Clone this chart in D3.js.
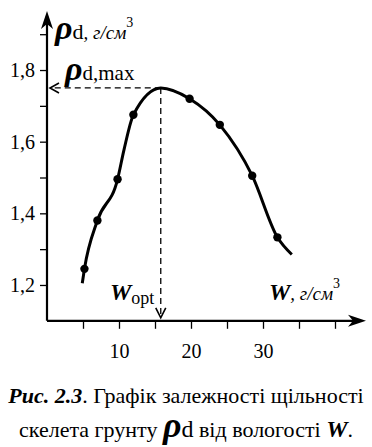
<!DOCTYPE html>
<html>
<head>
<meta charset="utf-8">
<script src="https://cdn.jsdelivr.net/npm/d3@7"></script>
<style>
  body { margin: 0; background: #fff; }
  svg text { font-family: "Liberation Serif", "Times New Roman", "DejaVu Serif", serif; }
</style>
</head>
<body>
<div id="chart"></div>
<script>
// measured points (W, %) and dry density
const dotW   = [5.2, 7.0, 9.8, 12.0, 19.8, 24.0, 28.5, 32.0];
const dotRho = [1.245, 1.38, 1.495, 1.675, 1.72, 1.647, 1.505, 1.333];
// hand-drawn curve knots
const curveW   = [4.9, 5.2, 7.0, 9.8, 10.7, 12.0, 15.8, 19.8, 24.0, 28.5, 32.0, 34.0];
const curveRho = [1.205, 1.245, 1.38, 1.495, 1.578, 1.675, 1.75, 1.72, 1.647, 1.505, 1.333, 1.285];
const wOpt = 15.8;
const rhoMax = 1.75;
const xTicks = [5, 10, 15, 20, 25, 30, 35, 40];
const xLabels = { 10: "10", 20: "20", 30: "30" };
const yTicks = [1.2, 1.3, 1.4, 1.5, 1.6, 1.7, 1.8, 1.9];
const yLabels = { "1.2": "1,2", "1.4": "1,4", "1.6": "1,6", "1.8": "1,8" };

const serif = "'Liberation Serif', 'Times New Roman', 'DejaVu Serif', serif";
const width = 372, height = 447;
const svg = d3.select("#chart").append("svg")
    .attr("width", width)
    .attr("height", height)
    .attr("font-family", serif);

// Scales
const x = d3.scaleLinear().domain([0, 40]).range([47, 335]);
const y = d3.scaleLinear().domain([1.1, 1.9]).range([320.8, 34.2]);
const x0 = x(0), y0 = y(1.1);

// Axis lines with arrows
svg.append("line")
    .attr("x1", x0).attr("y1", y0).attr("x2", x0).attr("y2", 16)
    .attr("stroke", "#000").attr("stroke-width", 2.2);
svg.append("path")
    .attr("d", `M${x0},11 L${x0 - 6},29 L${x0},24 L${x0 + 6},29 Z`)
    .attr("fill", "#000");
svg.append("line")
    .attr("x1", x0).attr("y1", y0).attr("x2", 360).attr("y2", y0)
    .attr("stroke", "#000").attr("stroke-width", 2.2);
svg.append("path")
    .attr("d", `M366,${y0} L348,${y0 - 6} L353,${y0} L348,${y0 + 6} Z`)
    .attr("fill", "#000");

// Y axis ticks
const yAxis = d3.axisLeft(y)
    .tickValues(yTicks)
    .tickSize(7)
    .tickPadding(5)
    .tickFormat(d => yLabels[d.toFixed(1)] || "");
const gy = svg.append("g")
    .attr("transform", `translate(${x0},0)`)
    .call(yAxis)
    .attr("font-family", serif)
    .attr("font-size", 20);
gy.select(".domain").remove();
gy.selectAll("line").attr("stroke-width", 1.3);

// X axis ticks
const xAxis = d3.axisBottom(x)
    .tickValues(xTicks)
    .tickSize(8)
    .tickPadding(15)
    .tickFormat(d => xLabels[d] || "");
const gx = svg.append("g")
    .attr("transform", `translate(0,${y0})`)
    .call(xAxis)
    .attr("font-family", serif)
    .attr("font-size", 20);
gx.select(".domain").remove();
gx.selectAll("line").attr("stroke-width", 1.3);

// Dashed guides to optimum
svg.append("line")
    .attr("x1", x(wOpt)).attr("y1", y(rhoMax))
    .attr("x2", x0 + 3).attr("y2", y(rhoMax))
    .attr("stroke", "#000").attr("stroke-width", 1.3)
    .attr("stroke-dasharray", "6,4");
svg.append("path")
    .attr("d", `M${x0 + 12},${y(rhoMax) - 5} L${x0 + 3},${y(rhoMax)} L${x0 + 12},${y(rhoMax) + 5}`)
    .attr("fill", "none").attr("stroke", "#000").attr("stroke-width", 1.6);
svg.append("line")
    .attr("x1", x(wOpt)).attr("y1", y(rhoMax))
    .attr("x2", x(wOpt)).attr("y2", y0 - 4)
    .attr("stroke", "#000").attr("stroke-width", 1.3)
    .attr("stroke-dasharray", "6,4");
svg.append("path")
    .attr("d", `M${x(wOpt) - 5},${y0 - 13} L${x(wOpt)},${y0 - 3} L${x(wOpt) + 5},${y0 - 13}`)
    .attr("fill", "none").attr("stroke", "#000").attr("stroke-width", 1.6);

// Curve
const curveData = curveW.map((w, i) => ({ w: w, r: curveRho[i] }));
const line = d3.line()
    .x(d => x(d.w))
    .y(d => y(d.r))
    .curve(d3.curveMonotoneX);
svg.append("path")
    .datum(curveData)
    .attr("d", line)
    .attr("fill", "none")
    .attr("stroke", "#000")
    .attr("stroke-width", 3);

// Points
const dots = dotW.map((w, i) => ({ w: w, r: dotRho[i] }));
svg.selectAll("circle.dot")
    .data(dots)
    .enter()
    .append("circle")
    .attr("class", "dot")
    .attr("cx", d => x(d.w))
    .attr("cy", d => y(d.r))
    .attr("r", 4.2)
    .attr("fill", "#000");

// Labels
const yTitle = svg.append("text").attr("x", 55).attr("y", 39);
yTitle.append("tspan").attr("font-weight", "bold").attr("font-style", "italic")
    .attr("font-size", "34px").text("ρ");
yTitle.append("tspan").attr("font-size", "22px").text("d");
yTitle.append("tspan").attr("font-style", "italic").attr("font-size", "19px").text(", г/см");
yTitle.append("tspan").attr("font-size", "14px").attr("dy", -12).text("3");

const rhoLabel = svg.append("text").attr("x", 65).attr("y", 80);
rhoLabel.append("tspan").attr("font-weight", "bold").attr("font-style", "italic")
    .attr("font-size", "34px").text("ρ");
rhoLabel.append("tspan").attr("font-size", "21px").text("d,max");

const wOptLabel = svg.append("text").attr("x", 110).attr("y", 300);
wOptLabel.append("tspan").attr("font-weight", "bold").attr("font-style", "italic")
    .attr("font-size", "24px").text("W");
wOptLabel.append("tspan").attr("font-size", "18px").attr("dy", 4).text("opt");

const wTitle = svg.append("text").attr("x", 269).attr("y", 300);
wTitle.append("tspan").attr("font-weight", "bold").attr("font-style", "italic")
    .attr("font-size", "24px").text("W");
wTitle.append("tspan").attr("font-style", "italic").attr("font-size", "19px").text(", г/см");
wTitle.append("tspan").attr("font-size", "14px").attr("dy", -12).text("3");

// Caption
const cap1 = svg.append("text").attr("x", 186).attr("y", 403)
    .attr("text-anchor", "middle").attr("font-size", "22px");
cap1.append("tspan").attr("font-weight", "bold").attr("font-style", "italic").text("Рис. 2.3");
cap1.append("tspan").text(". Графік залежності щільності");

const cap2 = svg.append("text").attr("x", 186).attr("y", 437)
    .attr("text-anchor", "middle").attr("font-size", "22px");
cap2.append("tspan").text("скелета грунту ");
cap2.append("tspan").attr("font-weight", "bold").attr("font-style", "italic")
    .attr("font-size", "36px").text("ρ");
cap2.append("tspan").attr("font-size", "24px").text("d");
cap2.append("tspan").text("  від вологості ");
cap2.append("tspan").attr("font-weight", "bold").attr("font-style", "italic")
    .attr("font-size", "24px").text("W");
cap2.append("tspan").text(".");
</script>
</body>
</html>
